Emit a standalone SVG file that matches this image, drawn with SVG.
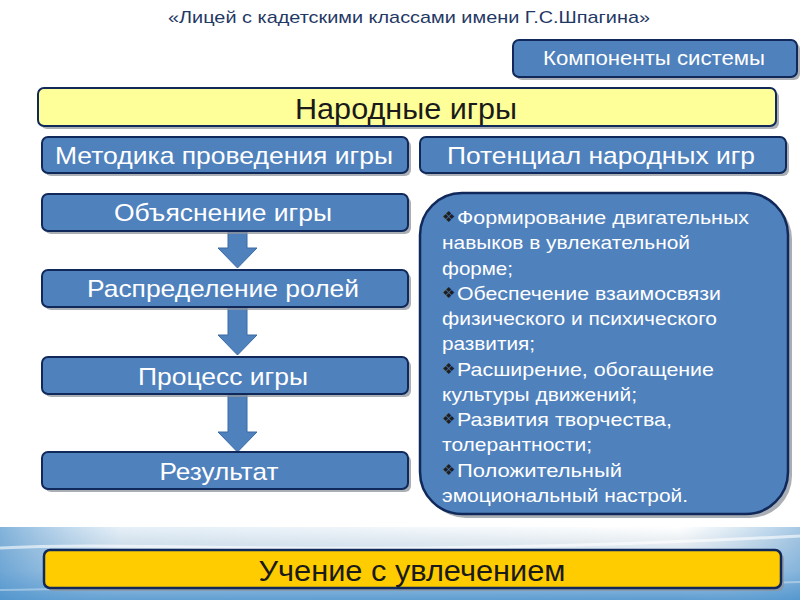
<svg xmlns="http://www.w3.org/2000/svg" width="800" height="600" viewBox="0 0 800 600">
<defs>
<linearGradient id="band" x1="0" y1="0" x2="0" y2="1">
<stop offset="0" stop-color="#FFFFFF"/>
<stop offset="0.2" stop-color="#E9EEF2"/>
<stop offset="0.6" stop-color="#BBD4EA"/>
<stop offset="1" stop-color="#5C9CD0"/>
</linearGradient>
<linearGradient id="bandL" x1="0" y1="0" x2="1" y2="0">
<stop offset="0" stop-color="#4E93CC" stop-opacity="0.7"/>
<stop offset="0.15" stop-color="#7FB2DD" stop-opacity="0.2"/>
<stop offset="0.85" stop-color="#7FB2DD" stop-opacity="0"/>
<stop offset="1" stop-color="#4E93CC" stop-opacity="0.5"/>
</linearGradient>
</defs>
<style>
.blue{fill:#4F81BD;stroke:#10285A;stroke-width:2}
.shadow{fill:#8E949C;opacity:0.75}
.wt{fill:#FFFFFF;font-family:"Liberation Sans",Arial,sans-serif;text-anchor:middle}
.dk{fill:#1A1A1A;font-family:"Liberation Sans",Arial,sans-serif;text-anchor:middle}
.li{fill:#FFFFFF;font-family:"Liberation Sans",Arial,sans-serif;font-size:18.5px}
.bu{fill:#1E1E1E;font-family:"DejaVu Sans",sans-serif;font-size:15px}
.arrow{fill:#4F81BD;stroke:#3A6BA6;stroke-width:1}
</style>
<rect width="800" height="600" fill="#FFFFFF"/>
<g id="background">
<rect x="0" y="527" width="800" height="73" fill="url(#band)"/>
<rect x="0" y="527" width="800" height="73" fill="url(#bandL)"/>
<path d="M0,548 C150,540 350,560 800,536" fill="none" stroke="#FFFFFF" stroke-opacity="0.6" stroke-width="3"/>
<path d="M0,590 C200,585 500,592 800,582" fill="none" stroke="#FFFFFF" stroke-opacity="0.35" stroke-width="2"/>
</g>
<text id="title" x="409" y="23" class="dk" style="fill:#1F3864;font-size:17px" textLength="482" lengthAdjust="spacingAndGlyphs">«Лицей с кадетскими классами имени Г.С.Шпагина»</text>
<g id="connectors">
<path class="arrow" d="M228,231 H247 V248 H257 L237.5,268 L218,248 H228 Z"/>
<path class="arrow" d="M228,307 H247 V335 H257 L237.5,355 L218,335 H228 Z"/>
<path class="arrow" d="M228,394 H247 V432 H257 L237.5,452 L218,432 H228 Z"/>
</g>
<g id="components">
<rect class="shadow" x="516" y="43" width="284" height="37" rx="6"/>
<rect class="blue" x="513" y="40" width="284" height="37" rx="6"/>
<text class="wt" x="654" y="65" style="font-size:20px" textLength="222" lengthAdjust="spacingAndGlyphs">Компоненты системы</text>
</g>
<g id="narodnye">
<rect class="shadow" x="41" y="91" width="738" height="38" rx="6"/>
<rect x="38" y="88" width="738" height="38" rx="6" fill="#FFFF99" stroke="#10285A" stroke-width="2"/>
<text class="dk" x="406" y="119" style="font-size:30px" textLength="222" lengthAdjust="spacingAndGlyphs">Народные игры</text>
</g>
<g id="metodika">
<rect class="shadow" x="45" y="140" width="366" height="36" rx="6"/>
<rect class="blue" x="42" y="137" width="366" height="36" rx="6"/>
<text class="wt" x="224" y="164" style="font-size:24px" textLength="338" lengthAdjust="spacingAndGlyphs">Методика проведения игры</text>
</g>
<g id="potencial">
<rect class="shadow" x="423" y="140" width="366" height="36" rx="6"/>
<rect class="blue" x="420" y="137" width="366" height="36" rx="6"/>
<text class="wt" x="601" y="164" style="font-size:24px" textLength="308" lengthAdjust="spacingAndGlyphs">Потенциал народных игр</text>
</g>
<g id="obyasnenie">
<rect class="shadow" x="45" y="197" width="366" height="37" rx="6"/>
<rect class="blue" x="42" y="194" width="366" height="37" rx="6"/>
<text class="wt" x="223" y="221" style="font-size:24px" textLength="218" lengthAdjust="spacingAndGlyphs">Объяснение игры</text>
</g>
<g id="raspredelenie">
<rect class="shadow" x="45" y="273" width="366" height="37" rx="6"/>
<rect class="blue" x="42" y="270" width="366" height="37" rx="6"/>
<text class="wt" x="223" y="297" style="font-size:24px" textLength="272" lengthAdjust="spacingAndGlyphs">Распределение ролей</text>
</g>
<g id="process">
<rect class="shadow" x="45" y="360" width="366" height="37" rx="6"/>
<rect class="blue" x="42" y="357" width="366" height="37" rx="6"/>
<text class="wt" x="223" y="385" style="font-size:24px" textLength="170" lengthAdjust="spacingAndGlyphs">Процесс игры</text>
</g>
<g id="rezultat">
<rect class="shadow" x="45" y="455" width="366" height="37" rx="6"/>
<rect class="blue" x="42" y="452" width="366" height="37" rx="6"/>
<text class="wt" x="219" y="480" style="font-size:24px" textLength="119" lengthAdjust="spacingAndGlyphs">Результат</text>
</g>
<g id="potencial-list">
<rect class="shadow" x="424" y="197" width="368" height="321" rx="42"/>
<rect x="420" y="193" width="368" height="321" rx="42" fill="#4F81BD" stroke="#10285A" stroke-width="2.5"/>
<text class="bu" x="442" y="222">❖</text>
<text class="li" x="457" y="224" textLength="292" lengthAdjust="spacingAndGlyphs">Формирование двигательных</text>
<text class="li" x="442" y="249" textLength="248" lengthAdjust="spacingAndGlyphs">навыков в увлекательной</text>
<text class="li" x="442" y="275" textLength="71" lengthAdjust="spacingAndGlyphs">форме;</text>
<text class="bu" x="442" y="298">❖</text>
<text class="li" x="457" y="300" textLength="264" lengthAdjust="spacingAndGlyphs">Обеспечение взаимосвязи</text>
<text class="li" x="442" y="325" textLength="275" lengthAdjust="spacingAndGlyphs">физического и психического</text>
<text class="li" x="442" y="350" textLength="93" lengthAdjust="spacingAndGlyphs">развития;</text>
<text class="bu" x="442" y="374">❖</text>
<text class="li" x="457" y="376" textLength="257" lengthAdjust="spacingAndGlyphs">Расширение, обогащение</text>
<text class="li" x="442" y="401" textLength="195" lengthAdjust="spacingAndGlyphs">культуры движений;</text>
<text class="bu" x="442" y="424">❖</text>
<text class="li" x="457" y="426" textLength="215" lengthAdjust="spacingAndGlyphs">Развития творчества,</text>
<text class="li" x="442" y="451" textLength="150" lengthAdjust="spacingAndGlyphs">толерантности;</text>
<text class="bu" x="442" y="475">❖</text>
<text class="li" x="457" y="477" textLength="165" lengthAdjust="spacingAndGlyphs">Положительный</text>
<text class="li" x="442" y="502" textLength="246" lengthAdjust="spacingAndGlyphs">эмоциональный настрой.</text>
</g>
<g id="uchenie">
<rect class="shadow" x="47" y="553" width="737" height="38" rx="6"/>
<rect x="44" y="550" width="737" height="38" rx="6" fill="#FFCC00" stroke="#10285A" stroke-width="2.5"/>
<text class="dk" x="412" y="581" style="font-size:30px" textLength="307" lengthAdjust="spacingAndGlyphs">Учение с увлечением</text>
</g>
</svg>
